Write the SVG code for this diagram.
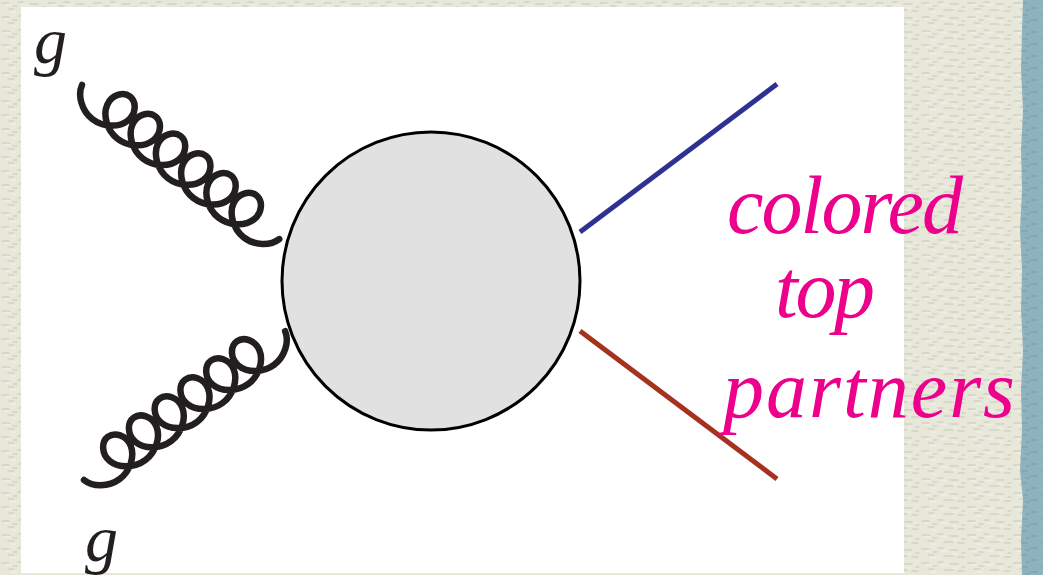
<svg xmlns="http://www.w3.org/2000/svg" width="1043" height="575" viewBox="0 0 1043 575">
  <defs>
    <pattern id="paper" width="46" height="14" patternUnits="userSpaceOnUse">
      <rect width="46" height="14" fill="#e7e7da"/>
      <path d="M2,3 h7 M18,2 h5 M30,4 h8 M8,9 h6 M24,10 h9 M38,11 h6 M13,6 h4 M42,7 h3" stroke="#c9cabb" stroke-width="1.2" stroke-linecap="round"/>
      <path d="M5,5 h5 M21,5 h6 M33,8 h4 M11,12 h5" stroke="#f4f4ec" stroke-width="1" stroke-linecap="round"/>
    </pattern>
    <pattern id="bluepaper" width="20" height="12" patternUnits="userSpaceOnUse">
      <rect width="20" height="12" fill="#8fb2bf"/>
      <path d="M2,3 h5 M11,8 h6 M6,10 h3" stroke="#7a9dab" stroke-width="1.2" stroke-linecap="round"/>
    </pattern>
    <path id="gluon-shape"
      d="M0,0 c2.67,10.73 15.35,20.5 29.01,20.5
         c13.67,0 26.34,-9.77 29.01,-20.5 c2.67,-10.73 -4.66,-20.5 -12.99,-20.5 c-8.33,0 -15.66,9.77 -12.99,20.5 c2.67,10.73 15.35,20.5 29.01,20.5
         c13.67,0 26.34,-9.77 29.01,-20.5 c2.67,-10.73 -4.66,-20.5 -12.99,-20.5 c-8.33,0 -15.66,9.77 -12.99,20.5 c2.67,10.73 15.35,20.5 29.01,20.5
         c13.67,0 26.34,-9.77 29.01,-20.5 c2.67,-10.73 -4.66,-20.5 -12.99,-20.5 c-8.33,0 -15.66,9.77 -12.99,20.5 c2.67,10.73 15.35,20.5 29.01,20.5
         c13.67,0 26.34,-9.77 29.01,-20.5 c2.67,-10.73 -4.66,-20.5 -12.99,-20.5 c-8.33,0 -15.66,9.77 -12.99,20.5 c2.67,10.73 15.35,20.5 29.01,20.5
         c13.67,0 26.34,-9.77 29.01,-20.5 c2.67,-10.73 -4.66,-20.5 -12.99,-20.5 c-8.33,0 -15.66,9.77 -12.99,20.5 c2.67,10.73 15.35,20.5 29.01,20.5
         c13.67,0 26.34,-9.77 29.01,-20.5 c2.67,-10.73 -4.66,-20.5 -12.99,-20.5 c-8.33,0 -15.66,9.77 -12.99,20.5 c2.67,10.73 15.35,20.5 29.01,20.5
         c13.67,0 26.34,-9.77 29.01,-20.5"/>
  </defs>
  <style>
    .gluon { fill: none; stroke: #231f20; stroke-width: 6.5; stroke-linecap: round; stroke-linejoin: round; }
    .fermion { fill: none; stroke-width: 5; stroke-linecap: butt; }
    .math { font-family: "Liberation Serif", "DejaVu Serif", serif; font-style: italic; }
    .pink { fill: #ec008c; font-size: 82px; }
    .glabel { fill: #231f20; font-size: 66px; }
  </style>

  <g id="background">
    <rect x="0" y="0" width="1043" height="575" fill="url(#paper)"/>
    <path d="M1023,0 L1043,0 L1043,575 L1022,575 L1021,540 L1023,500 L1020,470 L1022,430 L1021,390 L1023,350 L1021,310 L1022,270 L1020,230 L1022,190 L1021,150 L1023,110 L1021,70 L1022,30 Z" fill="url(#bluepaper)"/>
    <rect x="21" y="7" width="883" height="566" fill="#ffffff"/>
  </g>

  <g id="connectors">
    <use id="gluon-top" href="#gluon-shape" class="gluon" transform="translate(82,85) rotate(38)"/>
    <use id="gluon-bottom" href="#gluon-shape" class="gluon" transform="translate(84,480) rotate(-36.5)"/>
    <line id="line-blue" class="fermion" x1="580" y1="232" x2="777" y2="84" stroke="#2e3192"/>
    <line id="line-red" class="fermion" x1="580" y1="331" x2="777" y2="479" stroke="#a4321f"/>
  </g>

  <g id="blob">
    <circle cx="431" cy="281" r="149" fill="#e1e1e1" stroke="#000000" stroke-width="3"/>
  </g>

  <g id="label-g-top">
    <text class="math glabel" x="34" y="63">g</text>
  </g>
  <g id="label-g-bottom">
    <text class="math glabel" x="85" y="561">g</text>
  </g>

  <g id="label-partners">
    <text class="math pink" x="727" y="233" textLength="236" lengthAdjust="spacing">colored</text>
    <text class="math pink" x="775" y="317" textLength="100" lengthAdjust="spacing">top</text>
    <text class="math pink" x="723" y="417" textLength="292" lengthAdjust="spacing">partners</text>
  </g>
</svg>
